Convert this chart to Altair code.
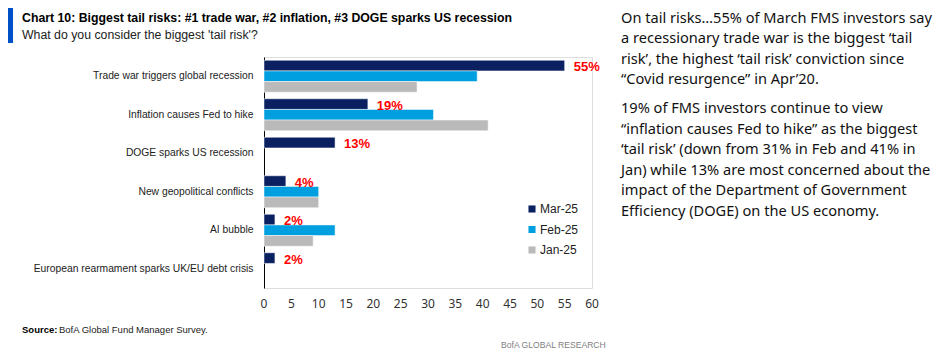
import altair as alt
import pandas as pd

categories = [
    "Trade war triggers global recession",
    "Inflation causes Fed to hike",
    "DOGE sparks US recession",
    "New geopolitical conflicts",
    "AI bubble",
    "European rearmament sparks UK/EU debt crisis",
]
series = ["Mar-25", "Feb-25", "Jan-25"]
mar25 = [55, 19, 13, 4, 2, 2]
feb25 = [39, 31, None, 10, 13, None]
jan25 = [28, 41, None, 10, 9, None]
mar_labels = ["55%", "19%", "13%", "4%", "2%", "2%"]
x_ticks = list(range(0, 61, 5))

title_text = "Chart 10: Biggest tail risks: #1 trade war, #2 inflation, #3 DOGE sparks US recession"
subtitle_text = "What do you consider the biggest 'tail risk'?"
para1 = [
    "On tail risks\u202655% of March FMS investors say",
    "a recessionary trade war is the biggest \u2018tail",
    "risk\u2019, the highest \u2018tail risk\u2019 conviction since",
    "\u201cCovid resurgence\u201d in Apr\u201920.",
]
para2 = [
    "19% of FMS investors continue to view",
    "\u201cinflation causes Fed to hike\u201d as the biggest",
    "\u2018tail risk\u2019 (down from 31% in Feb and 41% in",
    "Jan) while 13% are most concerned about the",
    "impact of the Department of Government",
    "Efficiency (DOGE) on the US economy.",
]
source_bold = "Source:"
source_rest = "BofA Global Fund Manager Survey."
brand = "BofA GLOBAL RESEARCH"

NARROW = "Liberation Sans, Arial, sans-serif"
BODY = "Noto Sans, Open Sans, sans-serif"

rows = []
for i, c in enumerate(categories):
    for s, vals in zip(series, [mar25, feb25, jan25]):
        if vals[i] is not None:
            rows.append({"category": c, "series": s, "value": vals[i]})
df = pd.DataFrame(rows)
lab_df = pd.DataFrame({"category": categories, "value": mar25, "label": mar_labels, "series": "Mar-25"})
tick_df = pd.DataFrame({"tick": x_ticks})

y_axis = alt.Axis(title=None, ticks=False, domain=True, domainColor="#000000",
                  domainWidth=1, labelFont=NARROW, labelFontSize=10.3,
                  labelColor="#222222", labelPadding=11, grid=False, labelLimit=300)
x_scale = alt.Scale(domain=[0, 60], nice=False)
y_scale = alt.Scale(paddingInner=0.17, paddingOuter=0.085)

bars = alt.Chart(df).mark_bar(stroke="white", strokeWidth=0.5).encode(
    x=alt.X("value:Q", scale=x_scale, axis=None),
    y=alt.Y("category:N", sort=categories, scale=y_scale, axis=y_axis),
    yOffset=alt.YOffset("series:N", sort=series, scale=alt.Scale(paddingInner=0)),
    color=alt.Color("series:N", sort=series,
                    scale=alt.Scale(domain=series, range=["#0a2060", "#009fdf", "#bababa"]),
                    legend=alt.Legend(title=None, orient="none", legendX=262, legendY=146,
                                      symbolType="square", symbolSize=50, symbolStrokeWidth=0,
                                      labelFont=NARROW, labelFontSize=12, labelColor="#222222",
                                      labelOffset=2, rowPadding=8.5, padding=0)),
)

labels = alt.Chart(lab_df).mark_text(align="left", baseline="middle", dx=9, dy=1.5,
                                     font=NARROW, fontSize=13, fontWeight="bold",
                                     color="#ff0000").encode(
    x=alt.X("value:Q", scale=x_scale, axis=None),
    y=alt.Y("category:N", sort=categories, scale=y_scale, axis=y_axis),
    yOffset=alt.YOffset("series:N", sort=series, scale=alt.Scale(paddingInner=0)),
    text="label:N",
)

tick_labels = alt.Chart(tick_df).mark_text(align="center", baseline="middle", font=BODY,
                                           fontSize=12, color="#333333").encode(
    x=alt.X("tick:Q", scale=x_scale, axis=None),
    y=alt.value(247),
    text="tick:Q",
)

one = pd.DataFrame({"k": [0]})
base = alt.Chart(one)

blue_bar = base.mark_rect(color="#0050c8").encode(
    x=alt.value(-256), x2=alt.value(-251), y=alt.value(-49), y2=alt.value(-14))
title = base.mark_text(align="left", baseline="middle", font=NARROW, fontSize=12.3,
                       fontWeight="bold", color="#000000").encode(
    x=alt.value(-242), y=alt.value(-39), text=alt.value(title_text))
subtitle = base.mark_text(align="left", baseline="middle", font=NARROW, fontSize=12.3,
                          color="#222222").encode(
    x=alt.value(-242), y=alt.value(-22), text=alt.value(subtitle_text))
p1 = base.mark_text(align="left", baseline="middle", font=BODY, fontSize=14.6,
                    lineHeight=20.5, color="#111111").encode(
    x=alt.value(357), y=alt.value(-38.5), text=alt.value(para1))
p2 = base.mark_text(align="left", baseline="middle", font=BODY, fontSize=14.6,
                    lineHeight=20.5, color="#111111").encode(
    x=alt.value(357), y=alt.value(52), text=alt.value(para2))
src1 = base.mark_text(align="left", baseline="middle", font=NARROW, fontSize=9.5,
                      fontWeight="bold", color="#000000").encode(
    x=alt.value(-242), y=alt.value(273), text=alt.value(source_bold))
src2 = base.mark_text(align="left", baseline="middle", font=NARROW, fontSize=9.5,
                      color="#222222").encode(
    x=alt.value(-205), y=alt.value(273), text=alt.value(source_rest))
brand_t = base.mark_text(align="left", baseline="middle", font=NARROW, fontSize=8.6,
                         color="#808080").encode(
    x=alt.value(237), y=alt.value(288), text=alt.value(brand))

chart = alt.layer(bars, labels, tick_labels, blue_bar, title, subtitle, p1, p2,
                  src1, src2, brand_t).properties(
    width=328, height=231,
    autosize=alt.AutoSizeParams(type="none"),
    padding={"left": 256, "top": 49, "right": 342, "bottom": 67},
).configure_view(stroke=None, clip=False).configure(background="white")

chart.save("out.html", embed_options={"renderer": "svg", "actions": False})
